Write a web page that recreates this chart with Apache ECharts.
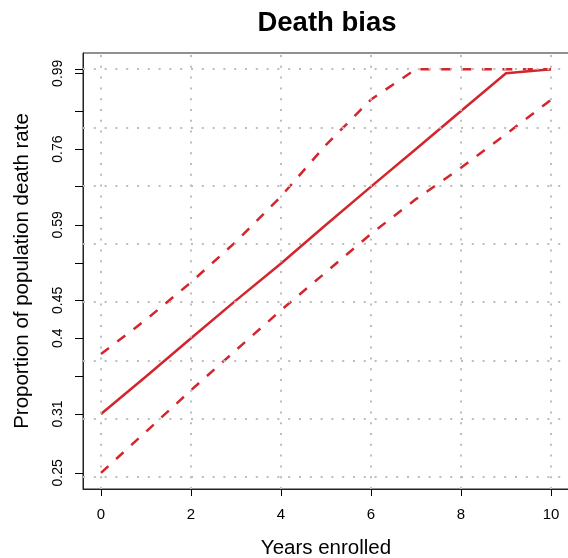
<!DOCTYPE html>
<html>
<head>
<meta charset="utf-8">
<script src="https://cdn.jsdelivr.net/npm/echarts@6/dist/echarts.min.js"></script>
<style>
  html, body { margin: 0; padding: 0; background: #fff; }
  #chart { width: 568px; height: 558px; }
</style>
</head>
<body>
<div id="chart"></div>
<script>
// 数据 (y 轴为对数刻度)
const years = [0, 1, 2, 3, 4, 5, 6, 7, 8, 9, 10]
const deathRate = [0.306, 0.348, 0.397, 0.452, 0.513, 0.586, 0.668, 0.760, 0.866, 0.986, 1.0]
const upperBound = [0.376, 0.423, 0.481, 0.553, 0.646, 0.771, 0.901, 1.0, 1.0, 1.0, 1.0]
const lowerBound = [0.250, 0.288, 0.332, 0.381, 0.437, 0.498, 0.568, 0.640, 0.713, 0.800, 0.900]

const xTicks = [0, 2, 4, 6, 8, 10]
const yTicks = [0.25, 0.306, 0.348, 0.397, 0.452, 0.513, 0.586, 0.668, 0.760, 0.866, 0.986, 1.0]
const yTickLabels = ['0.25', '0.31', '', '0.4', '0.45', '', '0.59', '', '0.76', '', '0.99', '']
const yGridLog = [-1.4, -1.2, -1.0, -0.8, -0.6, -0.4, -0.2, 0]

const FONT = 'Liberation Sans, Arial, Helvetica, sans-serif'
const RED = '#d3262c'

// 坐标范围, 两端各留 4%
const yLo = Math.log(0.25)
const yHi = Math.log(1)
const yPad = (yHi - yLo) * 0.04
const xPad = (10 - 0) * 0.04

const toPairs = (vals) => years.map((t, i) => [t, Math.log(vals[i])])
const yTickLog = yTicks.map(v => Math.log(v))

const chart = echarts.init(document.getElementById('chart'), null, { renderer: 'canvas' })

const gridLines = []
yGridLog.forEach(v => gridLines.push({ yAxis: v }))
xTicks.forEach(v => gridLines.push({ xAxis: v }))

const option = {
  animation: false,
  backgroundColor: '#fff',
  textStyle: { fontFamily: FONT },
  title: {
    text: 'Death bias',
    left: 322,
    textAlign: 'center',
    top: 4,
    textStyle: { fontFamily: FONT, fontSize: 27.5, fontWeight: 'bold', color: '#000' }
  },
  grid: {
    left: 83,
    top: 53,
    width: 486,
    height: 436,
    containLabel: false,
    outerBoundsMode: 'none',
    show: true,
    borderColor: '#222',
    borderWidth: 1,
    backgroundColor: 'transparent'
  },
  xAxis: {
    type: 'value',
    min: -xPad,
    max: 10 + xPad,
    name: 'Years enrolled',
    nameLocation: 'middle',
    nameGap: 49,
    nameTextStyle: { fontFamily: FONT, fontSize: 20.5, color: '#000' },
    axisLine: { show: true, onZero: false, lineStyle: { color: '#222', width: 1 } },
    splitLine: { show: false },
    axisTick: { show: true, inside: false, length: 7, customValues: xTicks, lineStyle: { color: '#000', width: 1 } },
    axisLabel: { customValues: xTicks, margin: 18, fontSize: 15, color: '#000', fontFamily: FONT }
  },
  yAxis: {
    type: 'value',
    min: yLo - yPad,
    max: yHi + yPad,
    name: 'Proportion of population death rate',
    nameLocation: 'middle',
    nameGap: 50,
    nameTextStyle: { fontFamily: FONT, fontSize: 20.5, color: '#000' },
    axisLine: { show: true, onZero: false, lineStyle: { color: '#222', width: 1 } },
    splitLine: { show: false },
    axisTick: { show: true, inside: false, length: 8, customValues: yTickLog, lineStyle: { color: '#000', width: 1 } },
    axisLabel: {
      customValues: yTickLog,
      rotate: 90,
      margin: 18,
      fontSize: 14,
      color: '#000',
      fontFamily: FONT,
      formatter: (v) => {
        const i = yTickLog.findIndex(t => Math.abs(t - v) < 1e-6)
        return i >= 0 ? yTickLabels[i] : ''
      }
    }
  },
  series: [
    {
      // 网格虚线
      type: 'line',
      data: [],
      z: 1,
      silent: true,
      markLine: {
        silent: true,
        symbol: 'none',
        label: { show: false },
        lineStyle: { color: '#bdbdbd', width: 2, type: [2, 8.8] },
        data: gridLines
      }
    },
    {
      name: 'upper',
      type: 'line',
      z: 3,
      data: toPairs(upperBound),
      showSymbol: false,
      lineStyle: { color: RED, width: 2.5, type: [10, 10.5], cap: 'butt' }
    },
    {
      name: 'lower',
      type: 'line',
      z: 3,
      data: toPairs(lowerBound),
      showSymbol: false,
      lineStyle: { color: RED, width: 2.5, type: [10, 10.5], cap: 'butt' }
    },
    {
      name: 'death rate',
      type: 'line',
      z: 4,
      data: toPairs(deathRate),
      showSymbol: false,
      lineStyle: { color: RED, width: 2.5 }
    }
  ]
}

chart.setOption(option)
</script>
</body>
</html>
